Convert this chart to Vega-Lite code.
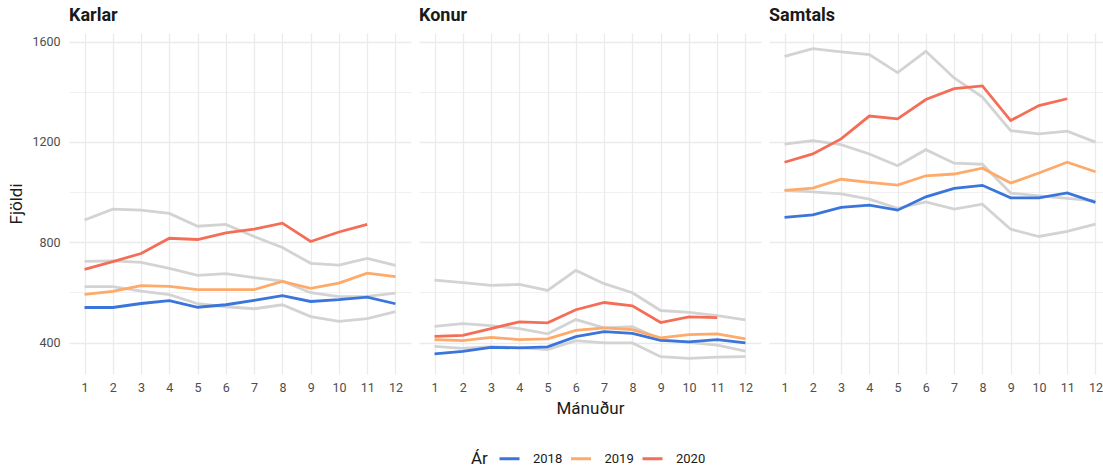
{
"$schema": "https://vega.github.io/schema/vega-lite/v6.json",
"background": "white",
"padding": {"left": 7, "top": 7, "right": 5, "bottom": 5},
"config": {
  "font": "Roboto",
  "view": {"stroke": null},
  "axis": {"domain": false, "ticks": false, "gridColor": "#EBEBEB", "labelColor": "#4D4D4D", "labelFontSize": 12.5, "titleFontSize": 17, "titleColor": "#1A1A1A", "titleFontWeight": "normal"},
  "title": {"anchor": "start", "frame": "group", "fontSize": 18, "fontWeight": "bold", "color": "#1A1A1A", "offset": 8},
  "legend": {"orient": "none", "legendX": 402, "legendY": 414, "direction": "horizontal", "titleOrient": "left", "titleAnchor": "middle", "titleBaseline": "line-top", "titleLineHeight": 7, "symbolType": "stroke", "symbolStrokeWidth": 3, "symbolSize": 400, "labelFontSize": 13, "titleFontSize": 17, "titleFontWeight": "normal", "titleColor": "#1A1A1A", "labelColor": "#1A1A1A", "labelOffset": 12, "columnPadding": 1.5, "titlePadding": 10}
},
"datasets": {"d": [
{"p":"Karlar","y":2018,"m":1,"v":540},{"p":"Karlar","y":2018,"m":2,"v":540},{"p":"Karlar","y":2018,"m":3,"v":556},{"p":"Karlar","y":2018,"m":4,"v":567},{"p":"Karlar","y":2018,"m":5,"v":541},{"p":"Karlar","y":2018,"m":6,"v":551},{"p":"Karlar","y":2018,"m":7,"v":568},{"p":"Karlar","y":2018,"m":8,"v":587},{"p":"Karlar","y":2018,"m":9,"v":564},{"p":"Karlar","y":2018,"m":10,"v":571},{"p":"Karlar","y":2018,"m":11,"v":581},{"p":"Karlar","y":2018,"m":12,"v":555},
{"p":"Karlar","y":2019,"m":1,"v":592},{"p":"Karlar","y":2019,"m":2,"v":604},{"p":"Karlar","y":2019,"m":3,"v":627},{"p":"Karlar","y":2019,"m":4,"v":624},{"p":"Karlar","y":2019,"m":5,"v":611},{"p":"Karlar","y":2019,"m":6,"v":611},{"p":"Karlar","y":2019,"m":7,"v":611},{"p":"Karlar","y":2019,"m":8,"v":644},{"p":"Karlar","y":2019,"m":9,"v":616},{"p":"Karlar","y":2019,"m":10,"v":637},{"p":"Karlar","y":2019,"m":11,"v":677},{"p":"Karlar","y":2019,"m":12,"v":663},
{"p":"Karlar","y":2020,"m":1,"v":692},{"p":"Karlar","y":2020,"m":2,"v":723},{"p":"Karlar","y":2020,"m":3,"v":755},{"p":"Karlar","y":2020,"m":4,"v":816},{"p":"Karlar","y":2020,"m":5,"v":811},{"p":"Karlar","y":2020,"m":6,"v":837},{"p":"Karlar","y":2020,"m":7,"v":852},{"p":"Karlar","y":2020,"m":8,"v":876},{"p":"Karlar","y":2020,"m":9,"v":803},{"p":"Karlar","y":2020,"m":10,"v":841},{"p":"Karlar","y":2020,"m":11,"v":871},
{"p":"Karlar","y":2015,"m":1,"v":889},{"p":"Karlar","y":2015,"m":2,"v":932},{"p":"Karlar","y":2015,"m":3,"v":928},{"p":"Karlar","y":2015,"m":4,"v":915},{"p":"Karlar","y":2015,"m":5,"v":864},{"p":"Karlar","y":2015,"m":6,"v":871},{"p":"Karlar","y":2015,"m":7,"v":823},{"p":"Karlar","y":2015,"m":8,"v":779},{"p":"Karlar","y":2015,"m":9,"v":716},{"p":"Karlar","y":2015,"m":10,"v":709},{"p":"Karlar","y":2015,"m":11,"v":736},{"p":"Karlar","y":2015,"m":12,"v":708},
{"p":"Karlar","y":2016,"m":1,"v":724},{"p":"Karlar","y":2016,"m":2,"v":726},{"p":"Karlar","y":2016,"m":3,"v":720},{"p":"Karlar","y":2016,"m":4,"v":696},{"p":"Karlar","y":2016,"m":5,"v":668},{"p":"Karlar","y":2016,"m":6,"v":675},{"p":"Karlar","y":2016,"m":7,"v":659},{"p":"Karlar","y":2016,"m":8,"v":645},{"p":"Karlar","y":2016,"m":9,"v":599},{"p":"Karlar","y":2016,"m":10,"v":583},{"p":"Karlar","y":2016,"m":11,"v":584},{"p":"Karlar","y":2016,"m":12,"v":597},
{"p":"Karlar","y":2017,"m":1,"v":623},{"p":"Karlar","y":2017,"m":2,"v":623},{"p":"Karlar","y":2017,"m":3,"v":605},{"p":"Karlar","y":2017,"m":4,"v":591},{"p":"Karlar","y":2017,"m":5,"v":555},{"p":"Karlar","y":2017,"m":6,"v":543},{"p":"Karlar","y":2017,"m":7,"v":535},{"p":"Karlar","y":2017,"m":8,"v":551},{"p":"Karlar","y":2017,"m":9,"v":504},{"p":"Karlar","y":2017,"m":10,"v":485},{"p":"Karlar","y":2017,"m":11,"v":496},{"p":"Karlar","y":2017,"m":12,"v":524},
{"p":"Konur","y":2018,"m":1,"v":355},{"p":"Konur","y":2018,"m":2,"v":365},{"p":"Konur","y":2018,"m":3,"v":381},{"p":"Konur","y":2018,"m":4,"v":379},{"p":"Konur","y":2018,"m":5,"v":383},{"p":"Konur","y":2018,"m":6,"v":424},{"p":"Konur","y":2018,"m":7,"v":444},{"p":"Konur","y":2018,"m":8,"v":437},{"p":"Konur","y":2018,"m":9,"v":409},{"p":"Konur","y":2018,"m":10,"v":403},{"p":"Konur","y":2018,"m":11,"v":412},{"p":"Konur","y":2018,"m":12,"v":399},
{"p":"Konur","y":2019,"m":1,"v":412},{"p":"Konur","y":2019,"m":2,"v":408},{"p":"Konur","y":2019,"m":3,"v":421},{"p":"Konur","y":2019,"m":4,"v":412},{"p":"Konur","y":2019,"m":5,"v":415},{"p":"Konur","y":2019,"m":6,"v":449},{"p":"Konur","y":2019,"m":7,"v":459},{"p":"Konur","y":2019,"m":8,"v":452},{"p":"Konur","y":2019,"m":9,"v":419},{"p":"Konur","y":2019,"m":10,"v":432},{"p":"Konur","y":2019,"m":11,"v":435},{"p":"Konur","y":2019,"m":12,"v":415},
{"p":"Konur","y":2020,"m":1,"v":425},{"p":"Konur","y":2020,"m":2,"v":429},{"p":"Konur","y":2020,"m":3,"v":456},{"p":"Konur","y":2020,"m":4,"v":483},{"p":"Konur","y":2020,"m":5,"v":479},{"p":"Konur","y":2020,"m":6,"v":531},{"p":"Konur","y":2020,"m":7,"v":560},{"p":"Konur","y":2020,"m":8,"v":547},{"p":"Konur","y":2020,"m":9,"v":480},{"p":"Konur","y":2020,"m":10,"v":503},{"p":"Konur","y":2020,"m":11,"v":500},
{"p":"Konur","y":2015,"m":1,"v":649},{"p":"Konur","y":2015,"m":2,"v":639},{"p":"Konur","y":2015,"m":3,"v":628},{"p":"Konur","y":2015,"m":4,"v":632},{"p":"Konur","y":2015,"m":5,"v":608},{"p":"Konur","y":2015,"m":6,"v":688},{"p":"Konur","y":2015,"m":7,"v":635},{"p":"Konur","y":2015,"m":8,"v":599},{"p":"Konur","y":2015,"m":9,"v":528},{"p":"Konur","y":2015,"m":10,"v":521},{"p":"Konur","y":2015,"m":11,"v":508},{"p":"Konur","y":2015,"m":12,"v":491},
{"p":"Konur","y":2016,"m":1,"v":465},{"p":"Konur","y":2016,"m":2,"v":476},{"p":"Konur","y":2016,"m":3,"v":468},{"p":"Konur","y":2016,"m":4,"v":456},{"p":"Konur","y":2016,"m":5,"v":435},{"p":"Konur","y":2016,"m":6,"v":492},{"p":"Konur","y":2016,"m":7,"v":459},{"p":"Konur","y":2016,"m":8,"v":464},{"p":"Konur","y":2016,"m":9,"v":413},{"p":"Konur","y":2016,"m":10,"v":401},{"p":"Konur","y":2016,"m":11,"v":390},{"p":"Konur","y":2016,"m":12,"v":366},
{"p":"Konur","y":2017,"m":1,"v":385},{"p":"Konur","y":2017,"m":2,"v":377},{"p":"Konur","y":2017,"m":3,"v":384},{"p":"Konur","y":2017,"m":4,"v":380},{"p":"Konur","y":2017,"m":5,"v":372},{"p":"Konur","y":2017,"m":6,"v":408},{"p":"Konur","y":2017,"m":7,"v":399},{"p":"Konur","y":2017,"m":8,"v":399},{"p":"Konur","y":2017,"m":9,"v":344},{"p":"Konur","y":2017,"m":10,"v":337},{"p":"Konur","y":2017,"m":11,"v":342},{"p":"Konur","y":2017,"m":12,"v":344},
{"p":"Samtals","y":2018,"m":1,"v":899},{"p":"Samtals","y":2018,"m":2,"v":909},{"p":"Samtals","y":2018,"m":3,"v":939},{"p":"Samtals","y":2018,"m":4,"v":948},{"p":"Samtals","y":2018,"m":5,"v":928},{"p":"Samtals","y":2018,"m":6,"v":981},{"p":"Samtals","y":2018,"m":7,"v":1015},{"p":"Samtals","y":2018,"m":8,"v":1027},{"p":"Samtals","y":2018,"m":9,"v":977},{"p":"Samtals","y":2018,"m":10,"v":977},{"p":"Samtals","y":2018,"m":11,"v":997},{"p":"Samtals","y":2018,"m":12,"v":959},
{"p":"Samtals","y":2019,"m":1,"v":1007},{"p":"Samtals","y":2019,"m":2,"v":1016},{"p":"Samtals","y":2019,"m":3,"v":1051},{"p":"Samtals","y":2019,"m":4,"v":1039},{"p":"Samtals","y":2019,"m":5,"v":1028},{"p":"Samtals","y":2019,"m":6,"v":1065},{"p":"Samtals","y":2019,"m":7,"v":1072},{"p":"Samtals","y":2019,"m":8,"v":1095},{"p":"Samtals","y":2019,"m":9,"v":1036},{"p":"Samtals","y":2019,"m":10,"v":1076},{"p":"Samtals","y":2019,"m":11,"v":1119},{"p":"Samtals","y":2019,"m":12,"v":1081},
{"p":"Samtals","y":2020,"m":1,"v":1119},{"p":"Samtals","y":2020,"m":2,"v":1152},{"p":"Samtals","y":2020,"m":3,"v":1212},{"p":"Samtals","y":2020,"m":4,"v":1303},{"p":"Samtals","y":2020,"m":5,"v":1292},{"p":"Samtals","y":2020,"m":6,"v":1369},{"p":"Samtals","y":2020,"m":7,"v":1412},{"p":"Samtals","y":2020,"m":8,"v":1423},{"p":"Samtals","y":2020,"m":9,"v":1285},{"p":"Samtals","y":2020,"m":10,"v":1345},{"p":"Samtals","y":2020,"m":11,"v":1372},
{"p":"Samtals","y":2015,"m":1,"v":1541},{"p":"Samtals","y":2015,"m":2,"v":1572},{"p":"Samtals","y":2015,"m":3,"v":1559},{"p":"Samtals","y":2015,"m":4,"v":1548},{"p":"Samtals","y":2015,"m":5,"v":1476},{"p":"Samtals","y":2015,"m":6,"v":1561},{"p":"Samtals","y":2015,"m":7,"v":1455},{"p":"Samtals","y":2015,"m":8,"v":1379},{"p":"Samtals","y":2015,"m":9,"v":1245},{"p":"Samtals","y":2015,"m":10,"v":1232},{"p":"Samtals","y":2015,"m":11,"v":1243},{"p":"Samtals","y":2015,"m":12,"v":1199},
{"p":"Samtals","y":2016,"m":1,"v":1191},{"p":"Samtals","y":2016,"m":2,"v":1205},{"p":"Samtals","y":2016,"m":3,"v":1189},{"p":"Samtals","y":2016,"m":4,"v":1152},{"p":"Samtals","y":2016,"m":5,"v":1105},{"p":"Samtals","y":2016,"m":6,"v":1169},{"p":"Samtals","y":2016,"m":7,"v":1115},{"p":"Samtals","y":2016,"m":8,"v":1111},{"p":"Samtals","y":2016,"m":9,"v":996},{"p":"Samtals","y":2016,"m":10,"v":985},{"p":"Samtals","y":2016,"m":11,"v":975},{"p":"Samtals","y":2016,"m":12,"v":965},
{"p":"Samtals","y":2017,"m":1,"v":1007},{"p":"Samtals","y":2017,"m":2,"v":1001},{"p":"Samtals","y":2017,"m":3,"v":993},{"p":"Samtals","y":2017,"m":4,"v":972},{"p":"Samtals","y":2017,"m":5,"v":935},{"p":"Samtals","y":2017,"m":6,"v":961},{"p":"Samtals","y":2017,"m":7,"v":932},{"p":"Samtals","y":2017,"m":8,"v":952},{"p":"Samtals","y":2017,"m":9,"v":852},{"p":"Samtals","y":2017,"m":10,"v":823},{"p":"Samtals","y":2017,"m":11,"v":843},{"p":"Samtals","y":2017,"m":12,"v":872}
]},
"data": {"name": "d"},
"spacing": 8,
"resolve": {"scale": {"color": "shared"}, "legend": {"color": "shared"}},
"hconcat": [
{
  "width": 342, "height": 341,
  "title": "Karlar",
  "transform": [{"filter": "datum.p === 'Karlar'"}],
  "encoding": {
    "x": {"field": "m", "type": "quantitative", "scale": {"domain": [0.45, 12.55], "nice": false, "zero": false}, "axis": {"values": [1,2,3,4,5,6,7,8,9,10,11,12], "title": null, "labelPadding": 7, "gridWidth": 1.3}},
    "y": {"field": "v", "type": "quantitative", "scale": {"domain": [275, 1634], "nice": false, "zero": false}, "axis": {"values": [400,600,800,1000,1200,1400,1600], "format": "d", "labelExpr": "datum.value % 400 === 0 ? datum.label : ''", "title": "Fjöldi", "labelPadding": 9, "titlePadding": 6, "gridWidth": {"condition": {"test": "datum.value % 400 === 0", "value": 1.3}, "value": 0.7}}}
  },
  "layer": [
    {"transform": [{"filter": "datum.y < 2018"}], "mark": {"type": "line", "color": "#D3D3D3", "strokeWidth": 2.8}, "encoding": {"detail": {"field": "y", "type": "nominal"}}},
    {"transform": [{"filter": "datum.y >= 2018"}], "mark": {"type": "line", "strokeWidth": 2.8}, "encoding": {"color": {"field": "y", "type": "nominal", "title": "Ár", "scale": {"domain": [2018, 2019, 2020], "range": ["#3A75DB", "#FDAA6B", "#F46E57"]}}}}
  ]
},
{
  "width": 342, "height": 341,
  "title": "Konur",
  "transform": [{"filter": "datum.p === 'Konur'"}],
  "encoding": {
    "x": {"field": "m", "type": "quantitative", "scale": {"domain": [0.45, 12.55], "nice": false, "zero": false}, "axis": {"values": [1,2,3,4,5,6,7,8,9,10,11,12], "title": "Mánuður", "labelPadding": 7, "titlePadding": 7, "gridWidth": 1.3}},
    "y": {"field": "v", "type": "quantitative", "scale": {"domain": [275, 1634], "nice": false, "zero": false}, "axis": {"values": [400,600,800,1000,1200,1400,1600], "labels": false, "title": null, "gridWidth": {"condition": {"test": "datum.value % 400 === 0", "value": 1.3}, "value": 0.7}}}
  },
  "layer": [
    {"transform": [{"filter": "datum.y < 2018"}], "mark": {"type": "line", "color": "#D3D3D3", "strokeWidth": 2.8}, "encoding": {"detail": {"field": "y", "type": "nominal"}}},
    {"transform": [{"filter": "datum.y >= 2018"}], "mark": {"type": "line", "strokeWidth": 2.8}, "encoding": {"color": {"field": "y", "type": "nominal", "title": "Ár", "scale": {"domain": [2018, 2019, 2020], "range": ["#3A75DB", "#FDAA6B", "#F46E57"]}}}}
  ]
},
{
  "width": 342, "height": 341,
  "title": "Samtals",
  "transform": [{"filter": "datum.p === 'Samtals'"}],
  "encoding": {
    "x": {"field": "m", "type": "quantitative", "scale": {"domain": [0.45, 12.55], "nice": false, "zero": false}, "axis": {"values": [1,2,3,4,5,6,7,8,9,10,11,12], "title": null, "labelPadding": 7, "gridWidth": 1.3}},
    "y": {"field": "v", "type": "quantitative", "scale": {"domain": [275, 1634], "nice": false, "zero": false}, "axis": {"values": [400,600,800,1000,1200,1400,1600], "labels": false, "title": null, "gridWidth": {"condition": {"test": "datum.value % 400 === 0", "value": 1.3}, "value": 0.7}}}
  },
  "layer": [
    {"transform": [{"filter": "datum.y < 2018"}], "mark": {"type": "line", "color": "#D3D3D3", "strokeWidth": 2.8}, "encoding": {"detail": {"field": "y", "type": "nominal"}}},
    {"transform": [{"filter": "datum.y >= 2018"}], "mark": {"type": "line", "strokeWidth": 2.8}, "encoding": {"color": {"field": "y", "type": "nominal", "title": "Ár", "scale": {"domain": [2018, 2019, 2020], "range": ["#3A75DB", "#FDAA6B", "#F46E57"]}}}}
  ]
}
]
}
